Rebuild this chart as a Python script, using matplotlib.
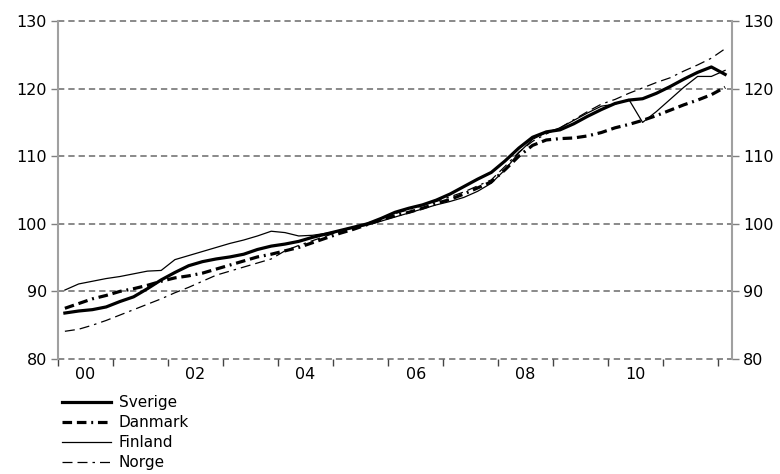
import numpy as np
import matplotlib
matplotlib.use("Agg")
import matplotlib.pyplot as plt

# quarterly index, 2000Q1 - 2012Q1
years = np.arange(2000, 2012.01, 0.25) + 0.125

sverige = [86.8, 87.1, 87.3, 87.7,
           88.5, 89.2, 90.4, 91.7,
           92.8, 93.8, 94.4, 94.8,
           95.1, 95.5, 96.2, 96.7,
           97.0, 97.4, 98.0, 98.5,
           99.0, 99.5, 100.0, 100.8,
           101.7, 102.3, 102.8, 103.5,
           104.4, 105.5, 106.6, 107.6,
           109.3, 111.2, 112.8, 113.6,
           113.9, 114.8, 115.9, 116.9,
           117.8, 118.3, 118.5, 119.3,
           120.3, 121.4, 122.4, 123.2,
           122.1]
danmark = [87.5, 88.2, 88.9, 89.4,
           90.0, 90.4, 90.9, 91.5,
           92.0, 92.3, 92.7, 93.3,
           93.9, 94.5, 95.1, 95.5,
           96.0, 96.5, 97.2, 97.9,
           98.6, 99.2, 99.9, 100.6,
           101.2, 101.7, 102.3, 103.0,
           103.6, 104.4, 105.3, 106.2,
           108.0, 110.0, 111.6, 112.4,
           112.6, 112.7, 113.0, 113.5,
           114.2, 114.7, 115.3, 116.0,
           116.8, 117.6, 118.3, 119.1,
           120.2]
finland = [90.2, 91.1, 91.5, 91.9,
           92.2, 92.6, 93.0, 93.1,
           94.7, 95.3, 95.9, 96.5,
           97.1, 97.6, 98.2, 98.9,
           98.7, 98.2, 98.3, 98.6,
           99.0, 99.4, 99.8, 100.4,
           101.0, 101.6, 102.2, 102.8,
           103.3, 103.9, 104.8, 106.0,
           108.0, 110.5, 112.5, 113.5,
           114.2, 115.3, 116.4, 117.4,
           117.7, 118.4, 115.0, 116.6,
           118.4, 120.2, 121.8, 121.8,
           122.7]
norge = [84.1, 84.4, 85.0, 85.7,
         86.5, 87.3, 88.1, 88.9,
         89.8, 90.6, 91.5, 92.4,
         93.0, 93.6, 94.2, 94.8,
         96.0, 96.8, 97.5, 98.2,
         98.9, 99.5, 100.1, 100.8,
         101.5, 102.1, 102.7, 103.3,
         104.0, 104.7, 105.6, 106.5,
         108.5, 110.6, 112.2, 113.3,
         114.2, 115.4, 116.6, 117.7,
         118.4, 119.3, 120.1, 120.9,
         121.6, 122.6, 123.5, 124.5,
         125.9]

tick_years = np.arange(2000, 2013)
label_pos = np.arange(2000, 2011, 2) + 0.5
x_labels = ["00", "02", "04", "06", "08", "10"]
y_ticks = [80, 90, 100, 110, 120, 130]

plt.rcParams['font.family'] = ['DejaVu Sans']
fig = plt.figure(figsize=(7.8, 4.74), dpi=100)
ax = fig.add_axes([58/780, 1 - 359/474, 674/780, 338/474])

ax.plot(years, sverige, color="black", lw=2.3, label="Sverige", zorder=5)
ax.plot(years, danmark, color="black", lw=2.3, linestyle=(0, (3, 1.5, 3, 1.5, 0.6, 1.5)),
        label="Danmark", zorder=4)
ax.plot(years, finland, color="black", lw=0.9, label="Finland", zorder=3)
ax.plot(years, norge, color="black", lw=0.9, linestyle=(0, (8, 4, 8, 4, 2, 4)),
        label="Norge", zorder=3)

ax.set_xlim(2000, 2012.25)
ax.set_ylim(80, 130)
for v in y_ticks:
    ax.axhline(v, color="#808080", lw=1.3, linestyle=(0, (3.5, 2.2)), zorder=1, clip_on=False)

ax.set_yticks(y_ticks)
ax.set_xticks(tick_years)
ax.set_xticklabels([])
ax.set_xticks(label_pos, minor=True)
ax.set_xticklabels(x_labels, minor=True)
ax.tick_params(axis="x", which="minor", length=0, labelsize=11.5, pad=6)
ax.tick_params(axis="x", which="major", length=5, color="#444444", width=1, direction="out")
ax.tick_params(axis="y", length=5, color="#7f7f7f", width=1, labelsize=11.5,
               left=True, right=True, labelleft=True, labelright=True, pad=3)

for s in ["top", "bottom"]:
    ax.spines[s].set_visible(False)
for s in ["left", "right"]:
    ax.spines[s].set_color("#a0a0a0")
    ax.spines[s].set_linewidth(1.5)

fig.legend(loc="upper left", bbox_to_anchor=(62/780, 1 - 395/474), frameon=False,
           fontsize=11, handlelength=3.2, handletextpad=0.5, labelspacing=0.33,
           borderpad=0, borderaxespad=0)

fig.savefig("out.png", dpi=100)
